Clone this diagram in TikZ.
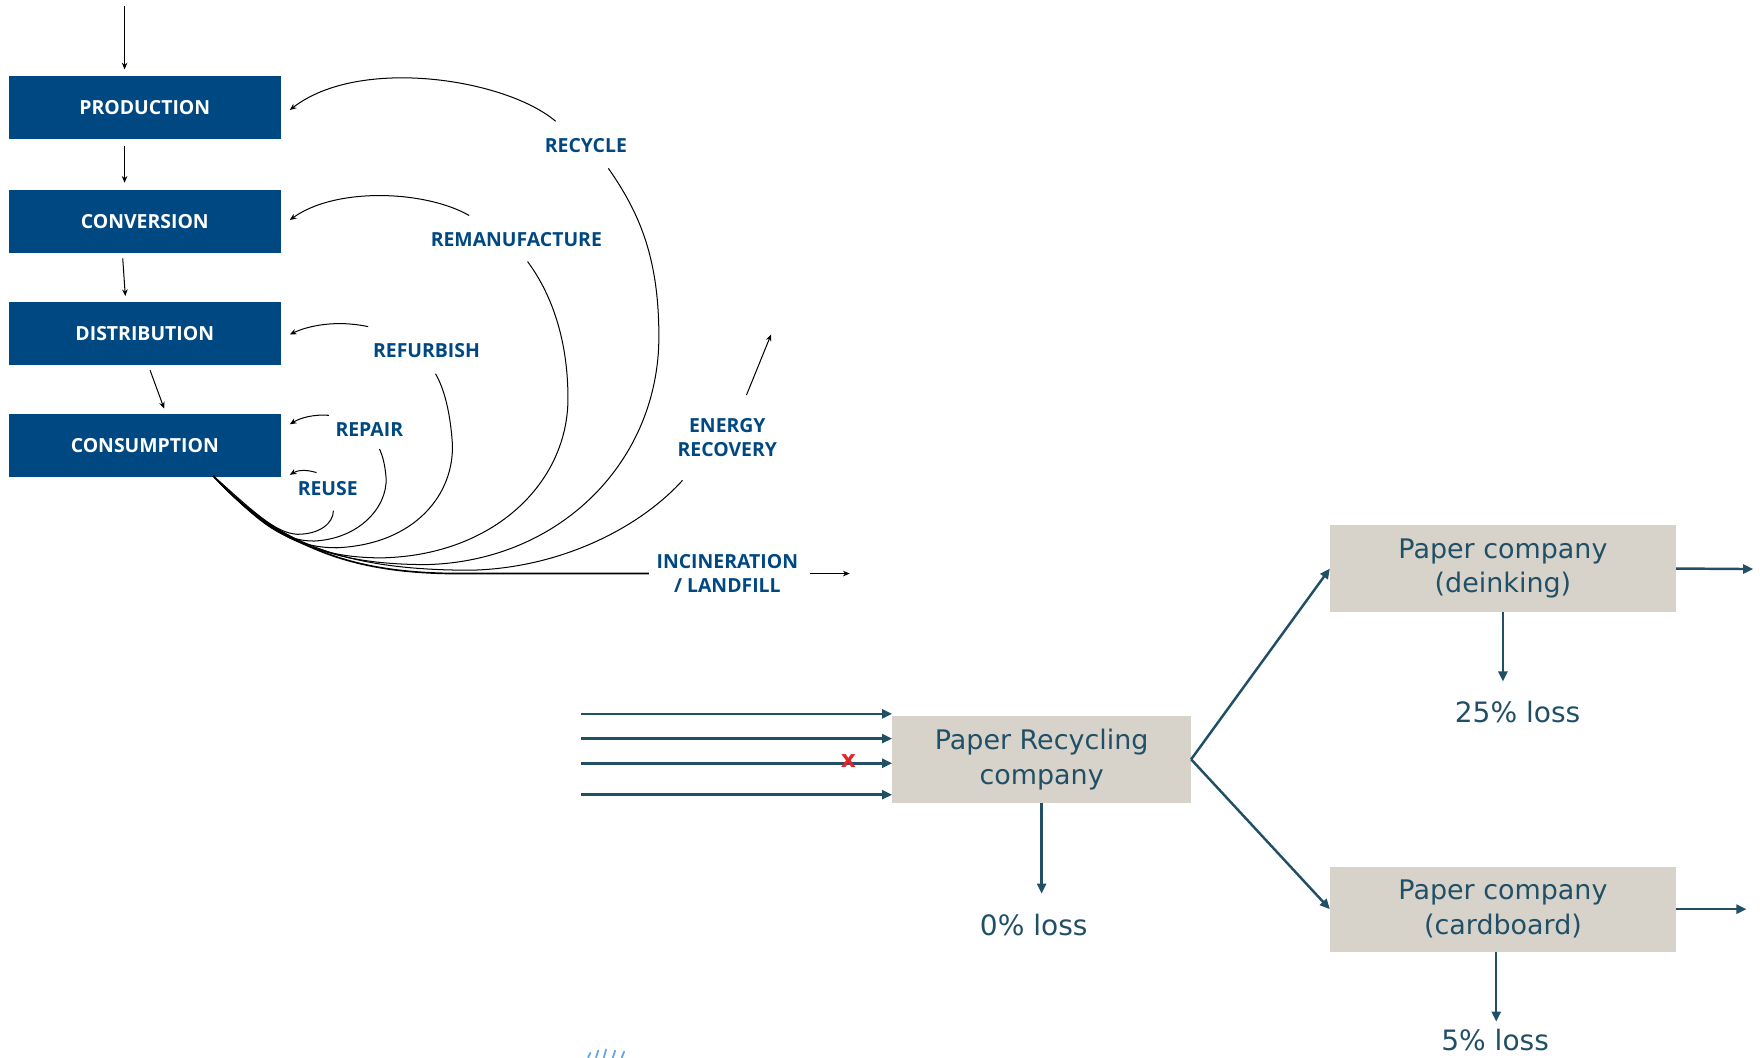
\documentclass[tikz,border=0pt]{standalone}
\usepackage{fontspec}
\setmainfont{DejaVu Sans}
\newfontfamily\capsfont{Open Sans}
\usetikzlibrary{arrows.meta,calc}

\definecolor{navy}{RGB}{0,72,130}
\definecolor{slate}{RGB}{33,80,102}
\definecolor{boxgray}{RGB}{215,211,202}
\definecolor{markred}{RGB}{225,35,45}
\definecolor{logoblue}{RGB}{100,165,230}

\begin{document}
\begin{tikzpicture}[x=1pt,y=-1pt,
  stage/.style={fill=navy, minimum width=242pt, minimum height=56pt, inner sep=0pt,
    text=white, font=\capsfont\bfseries\fontsize{17.3}{18}\selectfont},
  looplabel/.style={text=navy, font=\capsfont\bfseries\fontsize{17.3}{21}\selectfont,
    align=center, inner sep=0pt},
  flow/.style={black, line width=0.9pt},
  tip/.style={-{Stealth[length=6pt,width=5pt]}},
  firm/.style={fill=boxgray, minimum height=77pt, inner sep=0pt, text=slate,
    align=center, font=\fontsize{24}{31}\selectfont},
  pipe/.style={slate, line width=2.2pt, -{Triangle[length=9pt,width=8pt]}},
  losstext/.style={text=slate, font=\fontsize{25}{28}\selectfont, inner sep=0pt}
]
\useasboundingbox (0,0) rectangle (1568,942);

% ---------- value chain ----------
\node[stage] (prod) at (129,96)  {PRODUCTION};
\node[stage] (conv) at (129,197) {CONVERSION};
\node[stage] (dist) at (129,297) {DISTRIBUTION};
\node[stage] (cons) at (129,397) {CONSUMPTION};

\coordinate (src) at (111,5);
\draw[flow, tip, shorten >=6pt] (src) -- (prod.north -| src);
\draw[flow, tip, shorten <=6pt, shorten >=6pt] (prod.south -| src) -- (conv.north -| src);
\draw[flow, tip, shorten <=5pt, shorten >=5pt] ($(conv.south)+(-20,0)$) -- ($(dist.north)+(-17,0)$);
\draw[flow, tip, shorten <=5pt, shorten >=5pt] ($(dist.south)+(3,0)$) -- ($(cons.north)+(19,0)$);

% ---------- loop labels ----------
\node[looplabel] (recycle) at (522,130) {RECYCLE};
\node[looplabel] (reman)   at (460,213) {REMANUFACTURE};
\node[looplabel] (refurb)  at (380,312) {REFURBISH};
\node[looplabel] (repair)  at (329,383) {REPAIR};
\node[looplabel] (reuse)   at (292,435) {REUSE};
\node[looplabel] (energy)  at (648,390) {ENERGY\\RECOVERY};
\node[looplabel] (incin)   at (648,511) {INCINERATION\\/ LANDFILL};

% returning arrows into the chain
\draw[flow, tip] (495,108) .. controls (450,70) and (320,50) .. ($(prod.east)+(8,2)$);
\draw[flow, tip] (418,192) .. controls (380,170) and (300,166) .. ($(conv.east)+(8,-1)$);
\draw[flow, tip] (328,291) .. controls (300,285) and (275,290) .. ($(dist.east)+(8,1)$);
\draw[flow, tip] (293,370) .. controls (280,369) and (268,372) .. ($(cons.east)+(8,-19)$);
\draw[flow, tip] (282,421) .. controls (272,418) and (265,419) .. ($(cons.east)+(8,26)$);
\draw[flow, tip] (665,352) .. controls (672,335) and (680,315) .. (687,298);

% loops leaving consumption
\coordinate (O) at (190,424);
\draw[flow] (O) .. controls (225,455) and (245,475) .. (265,476)
  .. controls (285,476) and (297,466) .. (297,455);
\draw[flow] (O) .. controls (230,465) and (250,482) .. (280,482)
  .. controls (320,480) and (345,452) .. (344,426)
  .. controls (343,414) and (341,406) .. (338,400);
\draw[flow] (O) .. controls (235,470) and (260,488) .. (300,488)
  .. controls (370,485) and (405,440) .. (403,395)
  .. controls (401,365) and (395,345) .. (388,333);
\draw[flow] (O) .. controls (240,478) and (280,497) .. (340,497)
  .. controls (440,495) and (506,430) .. (506,355)
  .. controls (506,300) and (490,260) .. (470,233);
\draw[flow] (O) .. controls (245,485) and (300,503) .. (380,503)
  .. controls (500,500) and (587,410) .. (587,300)
  .. controls (587,230) and (570,190) .. (542,150);
\draw[flow] (O) .. controls (250,490) and (320,508) .. (420,508)
  .. controls (500,506) and (570,470) .. (608,428);
\draw[flow, line width=1.5pt] (O) .. controls (255,492) and (320,511) .. (410,511) -- (578,511);
\coordinate (landfill) at (757,511);
\draw[flow, tip] (722,511) -- (landfill);

% ---------- paper recycling chain ----------
\node[firm, minimum width=266pt] (prc)   at (928,676.5) {Paper Recycling\\company};
\node[firm, minimum width=308pt] (deink) at (1339,506.5) {Paper company\\(deinking)};
\node[firm, minimum width=308pt, minimum height=76pt] (card) at (1339,810) {Paper company\\(cardboard)};

\node[losstext] (loss0)  at (921,824)  {0\% loss};
\node[losstext] (loss25) at (1352,634) {25\% loss};
\node[losstext] (loss5)  at (1332,927) {5\% loss};

\coordinate (in1) at (518,636);
\coordinate (in2) at (518,658);
\coordinate (in3) at (518,680);
\coordinate (in4) at (518,708);
\foreach \c in {in1,in2,in3,in4}
  \draw[pipe] (\c) -- (\c -| prc.west);
\node[text=markred, font=\bfseries\fontsize{21}{21}\selectfont, inner sep=0pt] (cross) at (756,678) {x};

\draw[pipe] (prc.south) -- ($(prc.south)+(0,81)$);
\draw[pipe] (prc.east) -- (deink.west);
\draw[pipe] (prc.east) -- (card.west);
\draw[pipe] (deink.south) -- ($(deink.south)+(0,62)$);
\draw[pipe] ($(card.south)+(-6,0)$) -- ($(card.south)+(-6,62)$);
\coordinate (out1) at (1562,507);
\coordinate (out2) at (1556,810);
\draw[pipe] (deink.east) -- (out1);
\draw[pipe] (card.east) -- (out2);

% small blue strokes at the lower edge
\foreach \x/\h in {524/4,531/6,538/7,546/6,554/5}
  \draw[logoblue, line width=1.6pt, line cap=round] (\x,942) -- (\x+2,942-\h);
\end{tikzpicture}
\end{document}
